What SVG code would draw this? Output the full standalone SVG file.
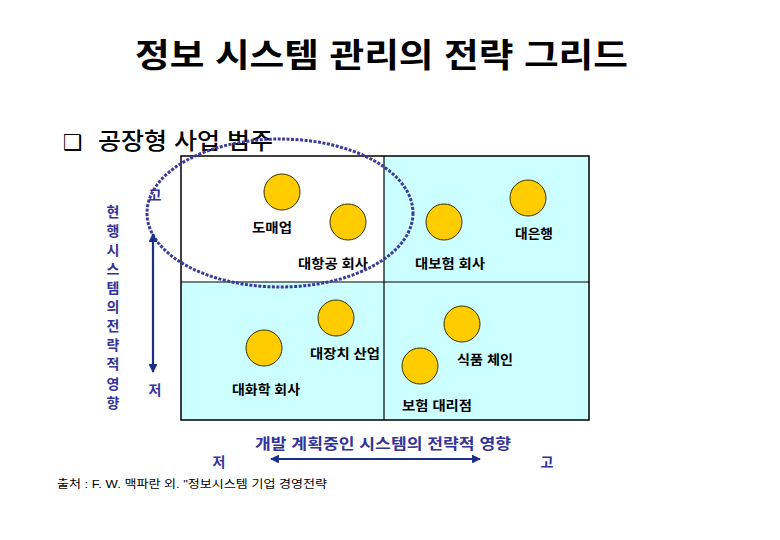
<svg xmlns="http://www.w3.org/2000/svg" width="780" height="540" viewBox="0 0 780 540">
<defs>
<style>
.t{font-family:"Liberation Sans","Noto Sans CJK KR",sans-serif}
.title{font-size:33px;font-weight:600;fill:#000}
.lbl{font-size:13px;font-weight:bold;fill:#000}
.ax{font-size:14px;font-weight:bold;fill:#333399}
.cir{fill:#FFCC00;stroke:#333300;stroke-width:1}
.q{fill:#CCFFFF}
</style>
<marker id="ah" viewBox="0 0 10 10" refX="9" refY="5" markerWidth="4" markerHeight="4" orient="auto-start-reverse">
<path d="M0,0 L10,5 L0,10 z" fill="#1C2F88"/>
</marker>
</defs>
<rect width="780" height="540" fill="#fff"/>
<text class="t title" x="135" y="67" textLength="493" lengthAdjust="spacingAndGlyphs">정보 시스템 관리의 전략 그리드</text>
<text x="63" y="150" style="font-family:'DejaVu Sans',sans-serif;font-size:22px;font-weight:bold;fill:#000">❑</text>
<text class="t" x="98" y="149" style="font-size:23px;font-weight:500;fill:#000" textLength="175" lengthAdjust="spacingAndGlyphs">공장형 사업 범주</text>

<g id="grid">
<rect x="181" y="156" width="408" height="264" fill="#fff"/>
<rect class="q" x="384" y="156" width="205" height="126"/>
<rect class="q" x="181" y="282" width="203" height="138"/>
<rect class="q" x="384" y="282" width="205" height="138"/>
<rect x="181" y="156" width="408" height="264" fill="none" stroke="#000" stroke-width="1.5"/>
<line x1="384" y1="156" x2="384" y2="420" stroke="#000" stroke-width="1.2"/>
<line x1="181" y1="282" x2="589" y2="282" stroke="#000" stroke-width="1.2"/>
</g>

<g id="n-domae"><circle class="cir" cx="282" cy="192" r="18"/><text class="t lbl" x="252" y="232" textLength="40" lengthAdjust="spacingAndGlyphs">도매업</text></g>
<g id="n-air"><circle class="cir" cx="348" cy="222" r="18"/><text class="t lbl" x="298" y="268" textLength="70" lengthAdjust="spacingAndGlyphs">대항공 회사</text></g>
<g id="n-ins"><circle class="cir" cx="444" cy="222" r="18"/><text class="t lbl" x="415" y="268" textLength="70" lengthAdjust="spacingAndGlyphs">대보험 회사</text></g>
<g id="n-bank"><circle class="cir" cx="528" cy="198" r="18"/><text class="t lbl" x="515" y="238" textLength="38" lengthAdjust="spacingAndGlyphs">대은행</text></g>
<g id="n-equip"><circle class="cir" cx="336" cy="318" r="18"/><text class="t lbl" x="310" y="358" textLength="70" lengthAdjust="spacingAndGlyphs">대장치 산업</text></g>
<g id="n-chem"><circle class="cir" cx="264" cy="348" r="18"/><text class="t lbl" x="232" y="394" textLength="68" lengthAdjust="spacingAndGlyphs">대화학 회사</text></g>
<g id="n-food"><circle class="cir" cx="462" cy="324" r="18"/><text class="t lbl" x="457" y="364" textLength="56" lengthAdjust="spacingAndGlyphs">식품 체인</text></g>
<g id="n-agent"><circle class="cir" cx="420" cy="366" r="18"/><text class="t lbl" x="402" y="410" textLength="70" lengthAdjust="spacingAndGlyphs">보험 대리점</text></g>

<g id="connectors">
<ellipse cx="280" cy="213" rx="133" ry="74" fill="none" stroke="#3B3B9B" stroke-width="3" stroke-dasharray="3 1.5"/>
<line x1="153" y1="234" x2="153" y2="372" stroke="#1C2F88" stroke-width="2.2" marker-start="url(#ah)" marker-end="url(#ah)"/>
<line x1="271" y1="459" x2="480" y2="459" stroke="#1C2F88" stroke-width="2.2" marker-start="url(#ah)" marker-end="url(#ah)"/>
</g>

<g id="y-axis">
<text class="t ax" x="113" y="217" text-anchor="middle">현</text>
<text class="t ax" x="113" y="236" text-anchor="middle">행</text>
<text class="t ax" x="113" y="255" text-anchor="middle">시</text>
<text class="t ax" x="113" y="274" text-anchor="middle">스</text>
<text class="t ax" x="113" y="293" text-anchor="middle">템</text>
<text class="t ax" x="113" y="312" text-anchor="middle">의</text>
<text class="t ax" x="113" y="331" text-anchor="middle">전</text>
<text class="t ax" x="113" y="350" text-anchor="middle">략</text>
<text class="t ax" x="113" y="369" text-anchor="middle">적</text>
<text class="t ax" x="113" y="389" text-anchor="middle">영</text>
<text class="t ax" x="113" y="408" text-anchor="middle">향</text>
<text class="t ax" x="155" y="200" text-anchor="middle">고</text>
<text class="t ax" x="155" y="395" text-anchor="middle">저</text>
</g>

<g id="x-axis">
<text class="t" x="255" y="449" style="font-size:15px;font-weight:bold;fill:#333399" textLength="256" lengthAdjust="spacingAndGlyphs">개발 계획중인 시스템의 전략적 영향</text>
<text class="t ax" x="219" y="467" text-anchor="middle">저</text>
<text class="t ax" x="547" y="467" text-anchor="middle">고</text>
</g>

<text class="t" x="57" y="488" style="font-size:11px;fill:#000" textLength="270" lengthAdjust="spacingAndGlyphs">출처 : F. W. 맥파란 외. "정보시스템 기업 경영전략</text>
</svg>
